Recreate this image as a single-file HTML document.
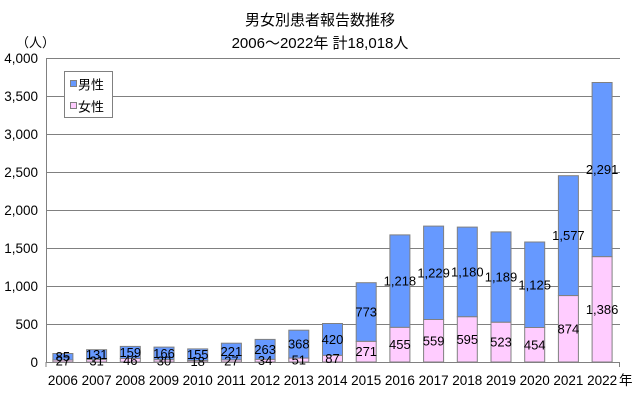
<!DOCTYPE html>
<html><head><meta charset="utf-8"><style>
html,body{margin:0;padding:0;background:#fff}
svg text{font-family:"Liberation Sans","Noto Sans CJK JP",sans-serif;fill:#000}
</style></head><body>
<svg width="640" height="400" xmlns="http://www.w3.org/2000/svg">
<text x="320" y="25" font-size="15" text-anchor="middle">男女別患者報告数推移</text>
<text x="320" y="48" font-size="15" text-anchor="middle">2006～2022年  計18,018人</text>
<text x="16" y="47" font-size="13">（人）</text>
<g stroke="#808080" stroke-width="1">
<line x1="46" y1="58.5" x2="620" y2="58.5"/>
<line x1="46" y1="96.5" x2="620" y2="96.5"/>
<line x1="46" y1="134.5" x2="620" y2="134.5"/>
<line x1="46" y1="172.5" x2="620" y2="172.5"/>
<line x1="46" y1="210.5" x2="620" y2="210.5"/>
<line x1="46" y1="248.5" x2="620" y2="248.5"/>
<line x1="46" y1="286.5" x2="620" y2="286.5"/>
<line x1="46" y1="324.5" x2="620" y2="324.5"/>
<line x1="46" y1="362.5" x2="620" y2="362.5"/>
<line x1="46.5" y1="58" x2="46.5" y2="362"/>
</g>
<g font-size="13.5" text-anchor="end">
<text x="38" y="63">4,000</text><text x="38" y="101">3,500</text><text x="38" y="139">3,000</text>
<text x="38" y="177">2,500</text><text x="38" y="215">2,000</text><text x="38" y="253">1,500</text>
<text x="38" y="291">1,000</text><text x="38" y="329">500</text><text x="38" y="367">0</text>
</g>
<g stroke="#808080" stroke-width="1">
<rect x="52.9" y="353.5" width="20" height="6.5" fill="#6699FF"/><rect x="52.9" y="360" width="20" height="2" fill="#FFCCFF"/>
<rect x="86.6" y="349.7" width="20" height="9.9" fill="#6699FF"/><rect x="86.6" y="359.6" width="20" height="2.4" fill="#FFCCFF"/>
<rect x="120.3" y="346.4" width="20" height="12.1" fill="#6699FF"/><rect x="120.3" y="358.5" width="20" height="3.5" fill="#FFCCFF"/>
<rect x="154" y="347.1" width="20" height="12.6" fill="#6699FF"/><rect x="154" y="359.7" width="20" height="2.3" fill="#FFCCFF"/>
<rect x="187.7" y="348.9" width="20" height="11.7" fill="#6699FF"/><rect x="187.7" y="360.6" width="20" height="1.4" fill="#FFCCFF"/>
<rect x="221.4" y="343.2" width="20" height="16.7" fill="#6699FF"/><rect x="221.4" y="359.9" width="20" height="2.1" fill="#FFCCFF"/>
<rect x="255.1" y="339.4" width="20" height="20" fill="#6699FF"/><rect x="255.1" y="359.4" width="20" height="2.6" fill="#FFCCFF"/>
<rect x="288.8" y="330.2" width="20" height="27.9" fill="#6699FF"/><rect x="288.8" y="358.1" width="20" height="3.9" fill="#FFCCFF"/>
<rect x="322.5" y="323.5" width="20" height="31.9" fill="#6699FF"/><rect x="322.5" y="355.4" width="20" height="6.6" fill="#FFCCFF"/>
<rect x="356.2" y="282.7" width="20" height="58.7" fill="#6699FF"/><rect x="356.2" y="341.4" width="20" height="20.6" fill="#FFCCFF"/>
<rect x="389.9" y="234.9" width="20" height="92.5" fill="#6699FF"/><rect x="389.9" y="327.4" width="20" height="34.6" fill="#FFCCFF"/>
<rect x="423.6" y="226.1" width="20" height="93.4" fill="#6699FF"/><rect x="423.6" y="319.5" width="20" height="42.5" fill="#FFCCFF"/>
<rect x="457.3" y="227.1" width="20" height="89.7" fill="#6699FF"/><rect x="457.3" y="316.8" width="20" height="45.2" fill="#FFCCFF"/>
<rect x="491" y="231.9" width="20" height="90.4" fill="#6699FF"/><rect x="491" y="322.3" width="20" height="39.7" fill="#FFCCFF"/>
<rect x="524.7" y="242" width="20" height="85.5" fill="#6699FF"/><rect x="524.7" y="327.5" width="20" height="34.5" fill="#FFCCFF"/>
<rect x="558.4" y="175.7" width="20" height="119.9" fill="#6699FF"/><rect x="558.4" y="295.6" width="20" height="66.4" fill="#FFCCFF"/>
<rect x="592.1" y="82.5" width="20" height="174.2" fill="#6699FF"/><rect x="592.1" y="256.7" width="20" height="105.3" fill="#FFCCFF"/>
</g>
<g font-size="13" text-anchor="middle">
<text x="62.9" y="361">85</text><text x="62.9" y="365.5">27</text>
<text x="96.6" y="359">131</text><text x="96.6" y="365.3">31</text>
<text x="130.3" y="357">159</text><text x="130.3" y="364.8">46</text>
<text x="164" y="358">166</text><text x="164" y="365.4">30</text>
<text x="197.7" y="359">155</text><text x="197.7" y="365.8">18</text>
<text x="231.4" y="356">221</text><text x="231.4" y="365.5">27</text>
<text x="265.1" y="354">263</text><text x="265.1" y="365.2">34</text>
<text x="298.8" y="348.7">368</text><text x="298.8" y="364.6">51</text>
<text x="332.5" y="344">420</text><text x="332.5" y="363.2">87</text>
<text x="366.2" y="316.6">773</text><text x="366.2" y="356.2">271</text>
<text x="399.9" y="285.7">1,218</text><text x="399.9" y="349.2">455</text>
<text x="433.6" y="277.3">1,229</text><text x="433.6" y="345.3">559</text>
<text x="467.3" y="276.5">1,180</text><text x="467.3" y="343.9">595</text>
<text x="501" y="281.6">1,189</text><text x="501" y="346.7">523</text>
<text x="534.7" y="289.3">1,125</text><text x="534.7" y="349.3">454</text>
<text x="568.4" y="240.2">1,577</text><text x="568.4" y="333.3">874</text>
<text x="602.1" y="174.1">2,291</text><text x="602.1" y="313.9">1,386</text>
</g>
<g stroke="#808080"><line x1="46" y1="362" x2="46" y2="367"/><line x1="619.5" y1="362" x2="619.5" y2="367"/></g>
<g font-size="13.5" text-anchor="middle">
<text x="62.9" y="385">2006</text><text x="96.6" y="385">2007</text><text x="130.3" y="385">2008</text>
<text x="164" y="385">2009</text><text x="197.7" y="385">2010</text><text x="231.4" y="385">2011</text>
<text x="265.1" y="385">2012</text><text x="298.8" y="385">2013</text><text x="332.5" y="385">2014</text>
<text x="366.2" y="385">2015</text><text x="399.9" y="385">2016</text><text x="433.6" y="385">2017</text>
<text x="467.3" y="385">2018</text><text x="501" y="385">2019</text><text x="534.7" y="385">2020</text>
<text x="568.4" y="385">2021</text><text x="602.1" y="385">2022</text>
</g>
<text x="619" y="385" font-size="13.5">年</text>
<rect x="64.5" y="71.5" width="48" height="46" fill="#fff" stroke="#808080"/>
<rect x="70.5" y="80.5" width="6" height="6" fill="#6699FF" stroke="#808080"/>
<rect x="70.5" y="102.5" width="6" height="6" fill="#FFCCFF" stroke="#808080"/>
<text x="78" y="89.5" font-size="13">男性</text>
<text x="78" y="111.5" font-size="13">女性</text>
</svg>
</body></html>
